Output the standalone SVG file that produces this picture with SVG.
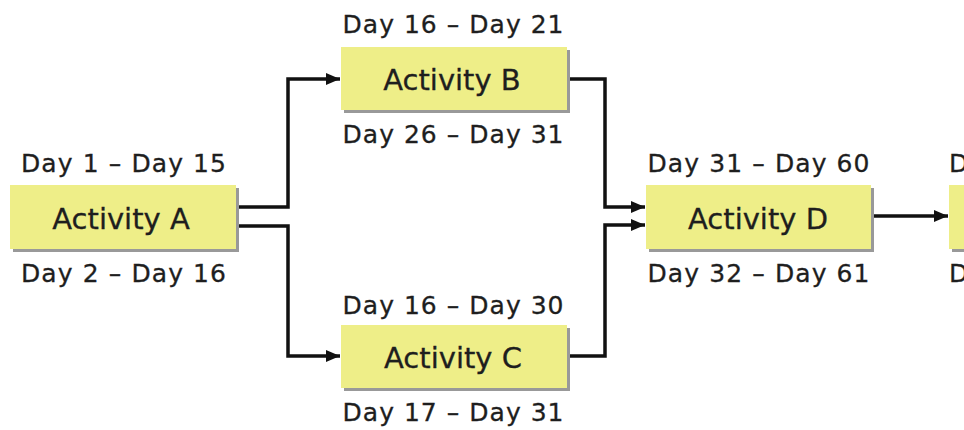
<svg xmlns="http://www.w3.org/2000/svg" width="964" height="430" viewBox="0 0 964 430">
<style>
.box{fill:#eeee88}
.sh{fill:#999}
.t{font-family:"DejaVu Sans",Verdana,sans-serif;font-size:29px;fill:#1e1e1e;text-anchor:middle;stroke:#1e1e1e;stroke-width:0.3}
.d{font-family:"DejaVu Sans",Verdana,sans-serif;font-size:25px;fill:#1e1e1e;text-anchor:middle;stroke:#1e1e1e;stroke-width:0.3}
.c{fill:none;stroke:#111;stroke-width:3.5}
</style>
<defs>
<marker id="ah" markerWidth="14" markerHeight="12" refX="14" refY="6" orient="auto" markerUnits="userSpaceOnUse">
<path d="M0,0 L14,6 L0,12 Z" fill="#111"/>
</marker>
</defs>
<rect width="964" height="430" fill="#fff"/>
<g id="connectors">
<path class="c" d="M236,207 H288 V79 H340" marker-end="url(#ah)"/>
<path class="c" d="M236,226 H288 V356 H340" marker-end="url(#ah)"/>
<path class="c" d="M567,79 H605 V207 H645" marker-end="url(#ah)"/>
<path class="c" d="M567,356 H605 V225 H645" marker-end="url(#ah)"/>
<path class="c" d="M871,216 H948" marker-end="url(#ah)"/>
</g>
<g id="nodeA">
<rect class="sh" x="13" y="188" width="226" height="64"/>
<rect class="box" x="10" y="185" width="226" height="64"/>
<text class="t" x="121" y="229">Activity A</text>
<text class="d" x="123.5" y="172" textLength="205" lengthAdjust="spacing">Day 1 – Day 15</text>
<text class="d" x="123.5" y="282" textLength="205" lengthAdjust="spacing">Day 2 – Day 16</text>
</g>
<g id="nodeB">
<rect class="sh" x="344" y="50" width="226" height="63"/>
<rect class="box" x="341" y="47" width="226" height="63"/>
<text class="t" x="452" y="90">Activity B</text>
<text class="d" x="453" y="33" textLength="221" lengthAdjust="spacing">Day 16 – Day 21</text>
<text class="d" x="453" y="143" textLength="221" lengthAdjust="spacing">Day 26 – Day 31</text>
</g>
<g id="nodeC">
<rect class="sh" x="344" y="328" width="226" height="63"/>
<rect class="box" x="341" y="325" width="226" height="63"/>
<text class="t" x="453" y="368">Activity C</text>
<text class="d" x="453" y="314" textLength="221" lengthAdjust="spacing">Day 16 – Day 30</text>
<text class="d" x="453" y="421" textLength="221" lengthAdjust="spacing">Day 17 – Day 31</text>
</g>
<g id="nodeD">
<rect class="sh" x="649" y="188" width="225" height="64"/>
<rect class="box" x="646" y="185" width="225" height="64"/>
<text class="t" x="758" y="229">Activity D</text>
<text class="d" x="758.5" y="172" textLength="222" lengthAdjust="spacing">Day 31 – Day 60</text>
<text class="d" x="758.5" y="282" textLength="222" lengthAdjust="spacing">Day 32 – Day 61</text>
</g>
<g id="nodeE">
<rect class="sh" x="952" y="188" width="20" height="64"/>
<rect class="box" x="949" y="185" width="20" height="64"/>
<text class="d" x="949" y="172" style="text-anchor:start">D</text>
<text class="d" x="949" y="282" style="text-anchor:start">D</text>
</g>
</svg>
